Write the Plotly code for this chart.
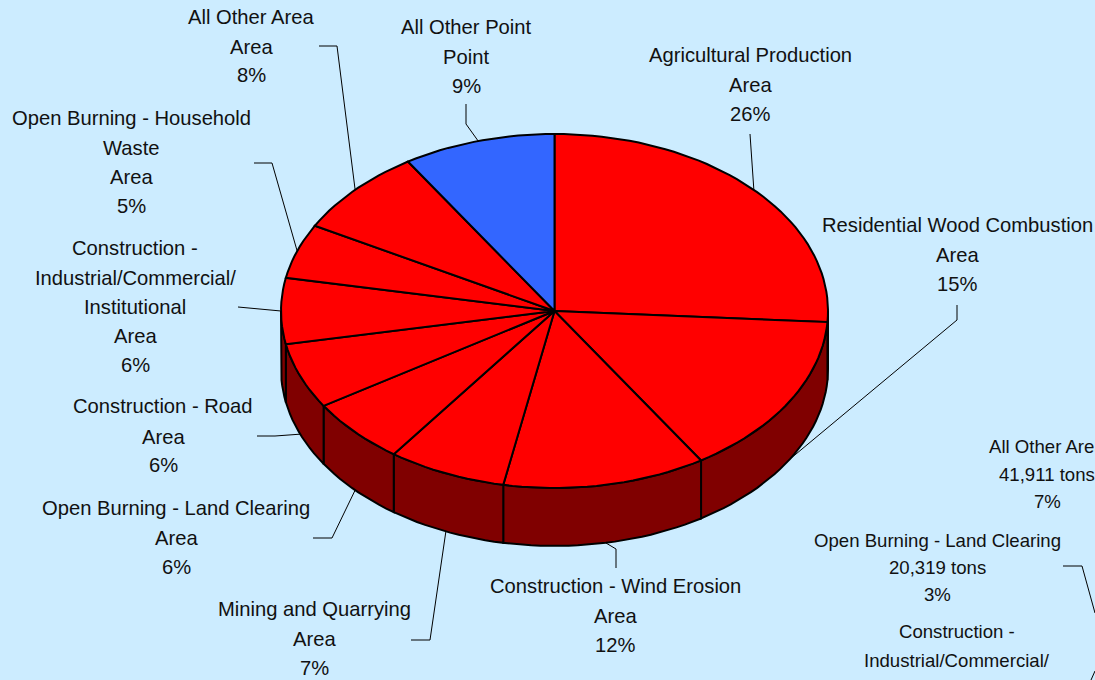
import math
import plotly.graph_objects as go

# Emission source shares, clockwise from twelve o'clock
sources = [
    ["Agricultural Production"],
    ["Residential Wood Combustion"],
    ["Construction - Wind Erosion"],
    ["Mining and Quarrying"],
    ["Open Burning - Land Clearing"],
    ["Construction - Road"],
    ["Construction -", "Industrial/Commercial/", "Institutional"],
    ["Open Burning - Household", "Waste"],
    ["All Other Area"],
    ["All Other Point"],
]
source_types = ["Area"] * 9 + ["Point"]
shares = [26, 15, 12, 7, 6, 6, 6, 5, 8, 9]

# Neighbouring tons chart, running off the page edge
side_sources = [["All Other Area"], ["Open Burning - Land Clearing"],
                ["Construction -", "Industrial/Commercial/", "Institutional"]]
side_tons = ["41,911 tons", "20,319 tons", ""]
side_shares = ["7%", "3%", ""]

RED, DARK, BLUE = "#FF0000", "#800000", "#3366FF"
BG = "#CCECFF"

# Pie projection in page pixels
CX, CY, RX, RY, DEPTH = 554.5, 311, 273.5, 177, 58


def rim(t):
    return CX + RX * math.sin(t), CY - RY * math.cos(t)


def arc(t0, t1, n=90):
    steps = max(2, int(n * (t1 - t0) / math.pi) + 2)
    return [rim(t0 + (t1 - t0) * i / (steps - 1)) for i in range(steps)]


total = sum(shares)
edges = [0.0]
for s in shares:
    edges.append(edges[-1] + s / total * 2 * math.pi)

fig = go.Figure()


def polygon(points, fill):
    fig.add_trace(go.Scatter(
        x=[p[0] for p in points], y=[p[1] for p in points],
        mode="lines", fill="toself", fillcolor=fill,
        line=dict(color="black", width=2), hoverinfo="skip", showlegend=False))


# Side wall: only the front half of the rim is visible
for t0, t1 in zip(edges, edges[1:]):
    a, b = max(t0, math.pi / 2), min(t1, 3 * math.pi / 2)
    if a < b:
        top = arc(a, b)
        low = [(x, y + DEPTH) for x, y in reversed(top)]
        polygon(top + low + top[:1], DARK)

# Top face
for t0, t1, kind in zip(edges, edges[1:], source_types):
    pts = [(CX, CY)] + arc(t0, t1) + [(CX, CY)]
    polygon(pts, BLUE if kind == "Point" else RED)

# Label placement: centre x, one y per text line, leader elbows in order from the text
label_x = [750, 957, 615, 314, 176, 163, 135, 131, 251, 466]
label_y = [
    [55, 85, 114], [225, 255, 284], [586, 616, 645], [609, 639, 668],
    [508, 538, 567], [406, 437, 465], [248, 278, 307, 336, 365],
    [118, 148, 177, 206], [17, 47, 75], [27, 57, 86],
]
elbows = [
    [(750, 134)], [(957, 305), (957, 320)], [(616, 568), (616, 549)],
    [(411, 640), (430, 640)], [(313, 538), (332, 538)], [(257, 436), (275, 436)],
    [(238, 307)], [(254, 163), (272, 163)], [(319, 46), (337, 46)],
    [(466, 104), (466, 124)],
]
annotations = []


def put_text(x, y, text, size):
    annotations.append(dict(
        x=x, y=y, xref="x", yref="y", text=text, showarrow=False,
        xanchor="center", yanchor="middle",
        font=dict(family="Liberation Sans, Arial, sans-serif", size=size, color="#111111")))


def leader(points):
    fig.add_trace(go.Scatter(
        x=[p[0] for p in points], y=[p[1] for p in points], mode="lines",
        line=dict(color="black", width=1), hoverinfo="skip", showlegend=False))


for i, share in enumerate(shares):
    lines = sources[i] + [source_types[i], f"{share}%"]
    for text, y in zip(lines, label_y[i]):
        put_text(label_x[i], y, text, 20.2)
    mid = (edges[i] + edges[i + 1]) / 2
    ex, ey = rim(mid)
    # Leaders on the front half land on the lower edge of the wall
    if math.pi / 2 < mid < 3 * math.pi / 2 - 0.01:
        ey += DEPTH
    leader(elbows[i] + [(ex, ey)])

side_x = [1047, 937, 957]
side_y = [[446, 474, 501], [540, 567, 594], [631, 660, 689]]
for names, tons, pct, x, ys in zip(side_sources, side_tons, side_shares, side_x, side_y):
    lines = names + [t for t in (tons, pct) if t]
    for text, y in zip(lines, ys):
        put_text(x, y, text, 18.6)

leader([(1063, 566), (1082, 566), (1095, 613)])
leader([(1095, 671), (1091, 680)])

fig.update_layout(
    width=1095, height=680, margin=dict(l=0, r=0, t=0, b=0),
    paper_bgcolor=BG, plot_bgcolor=BG, showlegend=False, annotations=annotations,
    xaxis=dict(range=[0, 1095], visible=False, fixedrange=True),
    yaxis=dict(range=[680, 0], visible=False, fixedrange=True),
)
fig.write_html("out.html", config={"displayModeBar": False})
